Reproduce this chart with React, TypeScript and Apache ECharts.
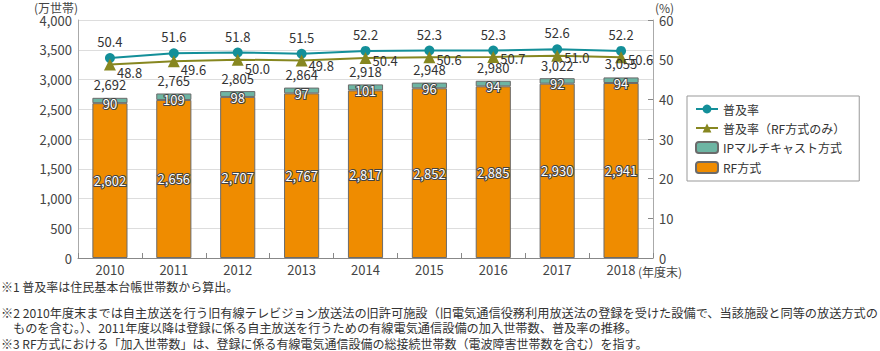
import React, { useEffect, useRef } from "react";
import * as echarts from "echarts";

const years = ["2010", "2011", "2012", "2013", "2014", "2015", "2016", "2017", "2018"];
const rfValues = [2602, 2656, 2707, 2767, 2817, 2852, 2885, 2930, 2941];
const ipValues = [90, 109, 98, 97, 101, 96, 94, 92, 94];
const totals = [2692, 2765, 2805, 2864, 2918, 2948, 2980, 3022, 3055];
const rate = [50.4, 51.6, 51.8, 51.5, 52.2, 52.3, 52.3, 52.6, 52.2];
const rateRF = [48.8, 49.6, 50.0, 49.8, 50.4, 50.6, 50.7, 51.0, 50.6];

// vertical nudges for the RF-only rate labels (style only)
const rfLabelDy = [8, 8, 9, 5, 2, 2, 2, 2, 2];

const FONT = "'Noto Sans CJK JP', 'Noto Sans', sans-serif";
const TXT = "#333";

const notes = [
  "※1 普及率は住民基本台帳世帯数から算出。",
  "※2 2010年度末までは自主放送を行う旧有線テレビジョン放送法の旧許可施設（旧電気通信役務利用放送法の登録を受けた設備で、当該施設と同等の放送方式の",
  "ものを含む。）、2011年度以降は登録に係る自主放送を行うための有線電気通信設備の加入世帯数、普及率の推移。",
  "※3 RF方式における「加入世帯数」は、登録に係る有線電気通信設備の総接続世帯数（電波障害世帯数を含む）を指す。",
];

export default function App() {
  const ref = useRef<HTMLDivElement>(null);
  useEffect(() => {
    document.body.style.margin = "0";
    const chart = echarts.init(ref.current!, null, { renderer: "svg" });
    const innerLabel = {
      show: true,
      position: "inside",
      color: "#fff",
      fontSize: 13,
      fontFamily: FONT,
      textBorderColor: "#444",
      textBorderWidth: 2,
      formatter: (p: any) => p.value.toLocaleString("en-US"),
    };
    const note = (text: string, left: number, top: number, size: number) => ({
      type: "text",
      left,
      top,
      style: { text, fontSize: size, lineHeight: 12, fill: TXT, fontFamily: FONT },
    });
    chart.setOption({
      animation: false,
      textStyle: { fontFamily: FONT },
      grid: { left: 78, right: 227, top: 20, bottom: 93 },
      legend: {
        orient: "vertical",
        left: 687,
        top: 96,
        padding: [7, 14, 7, 8],
        borderColor: "#999",
        borderWidth: 1,
        itemGap: 7,
        itemWidth: 22,
        itemHeight: 11,
        textStyle: { fontSize: 12, color: TXT, fontFamily: FONT },
        data: ["普及率", "普及率（RF方式のみ）", "IPマルチキャスト方式", "RF方式"],
      },
      xAxis: {
        type: "category",
        data: years,
        axisLine: { lineStyle: { color: "#888" } },
        axisTick: { show: true, inside: true, length: 5, lineStyle: { color: "#888" } },
        axisLabel: { fontSize: 13, color: "#444", margin: 5 },
      },
      yAxis: [
        {
          type: "value",
          min: 0,
          max: 4000,
          interval: 500,
          axisLine: { show: true, lineStyle: { color: "#aaa" } },
          axisTick: { show: false },
          axisLabel: {
            fontSize: 13,
            color: "#444",
            margin: 6,
            formatter: (v: number) => v.toLocaleString("en-US"),
          },
          splitLine: { lineStyle: { color: "#ddd" } },
        },
        {
          type: "value",
          min: 0,
          max: 60,
          interval: 10,
          axisLine: { show: true, lineStyle: { color: "#aaa" } },
          axisTick: { show: true, inside: true, length: 5, lineStyle: { color: "#888" } },
          axisLabel: { fontSize: 13, color: "#444", margin: 6 },
          splitLine: { show: false },
        },
      ],
      series: [
        {
          name: "RF方式",
          type: "bar",
          stack: "s",
          data: rfValues,
          barWidth: "55%",
          itemStyle: { color: "#EF8C00", borderColor: "#6b6b6b", borderWidth: 1 },
          label: innerLabel,
        },
        {
          name: "IPマルチキャスト方式",
          type: "bar",
          stack: "s",
          data: ipValues,
          barWidth: "55%",
          itemStyle: { color: "#6DB5A3", borderColor: "#6b6b6b", borderWidth: 1 },
          label: { ...innerLabel, offset: [0, 3] },
        },
        {
          name: "合計",
          type: "line",
          data: totals,
          symbol: "circle",
          symbolSize: 1,
          itemStyle: { color: "transparent" },
          lineStyle: { opacity: 0 },
          silent: true,
          label: {
            show: true,
            position: "top",
            distance: 6,
            fontSize: 13,
            color: TXT,
            fontFamily: FONT,
            formatter: (p: any) => p.value.toLocaleString("en-US"),
          },
        },
        {
          name: "普及率",
          type: "line",
          yAxisIndex: 1,
          data: rate,
          symbol: "circle",
          symbolSize: 10,
          itemStyle: { color: "#138F99" },
          lineStyle: { color: "#138F99", width: 2 },
          label: {
            show: true,
            position: "top",
            distance: 5,
            fontSize: 13,
            color: TXT,
            fontFamily: FONT,
            formatter: (p: any) => p.value.toFixed(1),
          },
        },
        {
          name: "普及率（RF方式のみ）",
          type: "line",
          yAxisIndex: 1,
          data: rateRF.map((v, i) => ({
            value: v,
            label: { offset: [0, rfLabelDy[i]] },
          })),
          symbol: "triangle",
          symbolSize: 12,
          itemStyle: { color: "#878720" },
          lineStyle: { color: "#878720", width: 2 },
          label: {
            show: true,
            position: "right",
            distance: 1,
            fontSize: 13,
            color: TXT,
            fontFamily: FONT,
            formatter: (p: any) => Number(p.value).toFixed(1),
          },
        },
      ],
      graphic: [
        { type: "text", left: 34, top: 1, style: { text: "(万世帯)", fontSize: 12, lineHeight: 12, fill: "#444", fontFamily: FONT } },
        { type: "text", left: 655, top: 1, style: { text: "(%)", fontSize: 12, lineHeight: 12, fill: "#444", fontFamily: FONT } },
        { type: "text", left: 638, top: 265, style: { text: "(年度末)", fontSize: 12, lineHeight: 12, fill: "#444", fontFamily: FONT } },
        note(notes[0], 1, 280, 12),
        note(notes[1], 1, 307, 12.2),
        note(notes[2], 13, 322, 12.2),
        note(notes[3], 1, 337, 12),
      ],
    });
    return () => chart.dispose();
  }, []);
  return <div ref={ref} style={{ width: 880, height: 351 }} />;
}
